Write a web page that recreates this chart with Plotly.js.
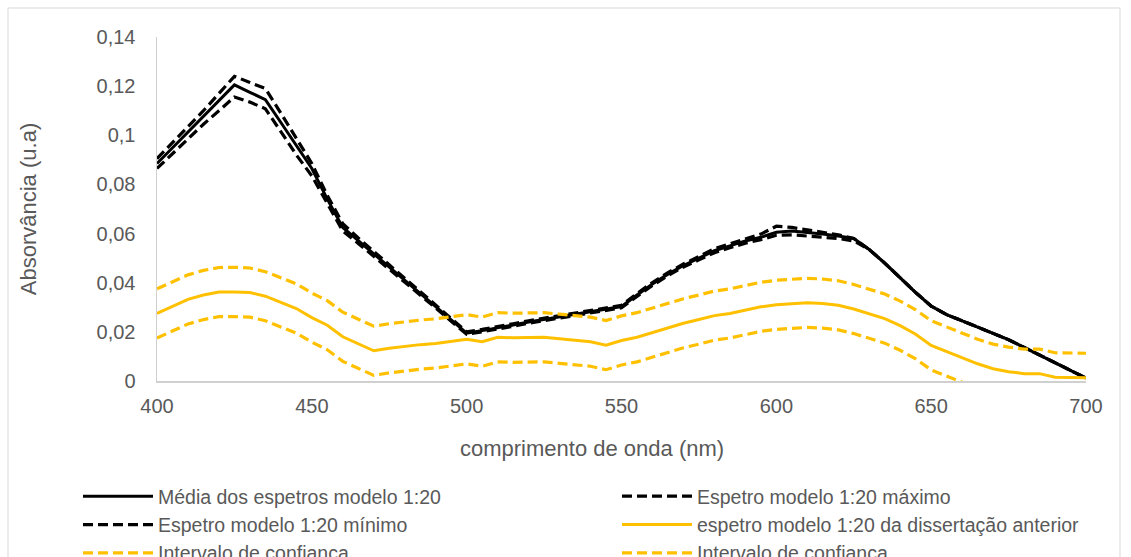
<!DOCTYPE html>
<html>
<head>
<meta charset="utf-8">
<script src="https://cdn.plot.ly/plotly-3.0.1.min.js"></script>
<style>html,body{margin:0;padding:0;background:#fff;}#chart{width:1131px;height:557px;}</style>
</head>
<body>
<div id="chart"></div>
<script>
const wavelength = [400,405,410,415,420,425,430,435,440,445,450,455,460,465,470,475,480,485,490,495,
  500,505,510,515,520,525,530,535,540,545,550,555,560,565,570,575,580,585,590,595,
  600,605,610,615,620,625,630,635,640,645,650,655,660,665,670,675,680,685,690,695,700];

const mediaModelo = [0.0885,0.0949,0.1013,0.1077,0.1141,0.1205,0.1175,0.1145,0.1052,0.0958,
  0.0865,0.074,0.0625,0.0571,0.0518,0.0464,0.041,0.0356,0.0303,0.0249,
  0.0195,0.0205,0.0215,0.0228,0.024,0.025,0.026,0.027,0.028,0.029,
  0.0303,0.035,0.0395,0.0435,0.047,0.050,0.053,0.055,0.057,0.0585,
  0.0605,0.061,0.0605,0.0598,0.059,0.058,0.0535,0.048,0.042,0.036,
  0.0305,0.027,0.0245,0.022,0.0195,0.0168,0.0137,0.0106,0.0075,0.0043,0.0012];

const maximoModelo = [0.0905,0.097,0.1035,0.110,0.117,0.124,0.1215,0.119,0.109,0.099,
  0.0885,0.0755,0.064,0.0582,0.0528,0.0474,0.042,0.0365,0.031,0.0255,
  0.020,0.021,0.022,0.0233,0.0245,0.0255,0.0265,0.0275,0.0285,0.0295,
  0.0308,0.0356,0.0401,0.0441,0.0476,0.0507,0.0538,0.0558,0.0579,0.0598,
  0.063,0.0625,0.0615,0.0605,0.0595,0.058,0.0535,0.048,0.042,0.036,
  0.0305,0.027,0.0245,0.022,0.0195,0.0168,0.0137,0.0106,0.0075,0.0043,0.0012];

const minimoModelo = [0.0865,0.0925,0.0985,0.1045,0.110,0.1156,0.1135,0.1108,0.1015,0.092,
  0.0835,0.072,0.061,0.056,0.0508,0.0455,0.040,0.035,0.0297,0.0243,
  0.019,0.020,0.021,0.0223,0.0235,0.0245,0.0255,0.0265,0.0275,0.0285,
  0.0298,0.0344,0.0389,0.0429,0.0464,0.0493,0.0522,0.0542,0.0561,0.0575,
  0.0593,0.0595,0.059,0.0585,0.058,0.057,0.0535,0.048,0.042,0.036,
  0.0305,0.027,0.0245,0.022,0.0195,0.0168,0.0137,0.0106,0.0075,0.0043,0.0012];

const dissertacaoAnterior = [0.0275,0.0305,0.0332,0.035,0.0362,0.0362,0.036,0.0345,0.032,0.0295,
  0.0258,0.0227,0.018,0.015,0.0123,0.0133,0.0142,0.0148,0.0153,0.0163,
  0.017,0.016,0.0178,0.0176,0.0177,0.0178,0.0172,0.0166,0.016,0.0146,
  0.0165,0.0178,0.0197,0.0215,0.0235,0.025,0.0266,0.0275,0.029,0.0302,
  0.031,0.0315,0.0318,0.0315,0.0308,0.0293,0.0272,0.0254,0.0225,0.019,
  0.0145,0.012,0.0095,0.007,0.005,0.0038,0.003,0.003,0.0015,0.0013,0.0013];

const intervaloSuperior = [0.0375,0.0405,0.0432,0.045,0.0462,0.0463,0.046,0.0445,0.042,0.0395,
  0.0358,0.0327,0.028,0.025,0.0223,0.0233,0.0242,0.0248,0.0253,0.0263,
  0.027,0.026,0.0278,0.0276,0.0277,0.0278,0.0272,0.0266,0.026,0.0246,
  0.0265,0.0278,0.0297,0.0315,0.0335,0.035,0.0366,0.0375,0.039,0.0402,
  0.041,0.0415,0.0418,0.0415,0.0408,0.0393,0.0372,0.0354,0.0325,0.029,
  0.0245,0.022,0.0195,0.017,0.015,0.0138,0.013,0.013,0.0115,0.0113,0.0113];

const intervaloInferior = [0.0175,0.0205,0.0232,0.025,0.0262,0.0262,0.026,0.0245,0.022,0.0195,
  0.0158,0.0127,0.008,0.005,0.0023,0.0033,0.0042,0.0048,0.0053,0.0063,
  0.007,0.006,0.0078,0.0076,0.0077,0.0078,0.0072,0.0066,0.006,0.0046,
  0.0065,0.0078,0.0097,0.0115,0.0135,0.015,0.0166,0.0175,0.019,0.0202,
  0.021,0.0215,0.0218,0.0215,0.0208,0.0193,0.0172,0.0154,0.0125,0.009,
  0.0045,0.002,-0.0005,-0.003];

const seriesNames = ['Média dos espetros modelo 1:20','Espetro modelo 1:20 máximo','Espetro modelo 1:20 mínimo',
  'espetro modelo 1:20 da dissertação anterior','Intervalo de confiança','Intervalo de confiança'];

const BLACK = '#000000', GOLD = '#FFC000', TXT = '#595959', AX = '#d0d0d0';
const FONT = 'Liberation Sans, Arial, sans-serif';
const dashPat = '10px,5px';

const traces = [
  {x: wavelength, y: mediaModelo, name: seriesNames[0], line: {color: BLACK, width: 3}},
  {x: wavelength, y: maximoModelo, name: seriesNames[1], line: {color: BLACK, width: 3.2, dash: dashPat}},
  {x: wavelength, y: minimoModelo, name: seriesNames[2], line: {color: BLACK, width: 3.2, dash: dashPat}},
  {x: wavelength, y: dissertacaoAnterior, name: seriesNames[3], line: {color: GOLD, width: 3}},
  {x: wavelength, y: intervaloSuperior, name: seriesNames[4], line: {color: GOLD, width: 3.2, dash: dashPat}},
  {x: wavelength.slice(0, intervaloInferior.length), y: intervaloInferior, name: seriesNames[5], line: {color: GOLD, width: 3.2, dash: dashPat}}
].map(t => Object.assign({type: 'scatter', mode: 'lines', hoverinfo: 'skip'}, t));

const L = 157, R = 45, T = 37, B = 176;
const W = 1131, H = 557;
const pw = W - L - R, ph = H - T - B;
const px2x = p => (p - L) / pw;
const py2y = p => (H - B - p) / ph;

const layout = {
  width: W, height: H,
  margin: {l: L, r: R, t: T, b: B, autoexpand: false},
  paper_bgcolor: '#ffffff', plot_bgcolor: '#ffffff',
  separators: ',.',
  font: {family: FONT, color: TXT, size: 20},
  showlegend: true,
  xaxis: {
    range: [400, 700], dtick: 50, tick0: 400,
    showgrid: false, zeroline: false,
    showline: true, linecolor: AX, linewidth: 1.5,
    ticks: 'outside', ticklen: 6, tickcolor: 'rgba(0,0,0,0)',
    tickfont: {family: FONT, color: TXT, size: 20},
    fixedrange: true
  },
  yaxis: {
    range: [0, 0.14], dtick: 0.02, tick0: 0,
    showgrid: false, zeroline: false,
    showline: true, linecolor: AX, linewidth: 1.5,
    ticks: 'outside', ticklen: 16, tickcolor: 'rgba(0,0,0,0)',
    tickfont: {family: FONT, color: TXT, size: 20},
    title: {text: 'Absorvância (u.a)', font: {family: FONT, color: TXT, size: 22}, standoff: 54},
    fixedrange: true
  },
  legend: {
    orientation: 'h',
    x: px2x(78), xanchor: 'left',
    y: py2y(477), yanchor: 'top',
    itemwidth: 70,
    entrywidth: 454, entrywidthmode: 'pixels',
    font: {family: FONT, color: TXT, size: 19.5},
    bgcolor: 'rgba(0,0,0,0)', borderwidth: 0,
    traceorder: 'normal'
  },
  annotations: [{
    text: 'comprimento de onda (nm)', xref: 'paper', yref: 'paper',
    x: px2x(592), y: py2y(448), xanchor: 'center', yanchor: 'middle',
    showarrow: false, font: {family: FONT, color: TXT, size: 22}
  }],
  shapes: [{
    type: 'rect', xref: 'paper', yref: 'paper',
    x0: px2x(8), x1: px2x(1120), y0: py2y(620), y1: py2y(8),
    line: {color: '#d9d9d9', width: 1}, fillcolor: 'rgba(0,0,0,0)', layer: 'below'
  }]
};

Plotly.newPlot('chart', traces, layout, {displayModeBar: false, staticPlot: true});
</script>
</body>
</html>
